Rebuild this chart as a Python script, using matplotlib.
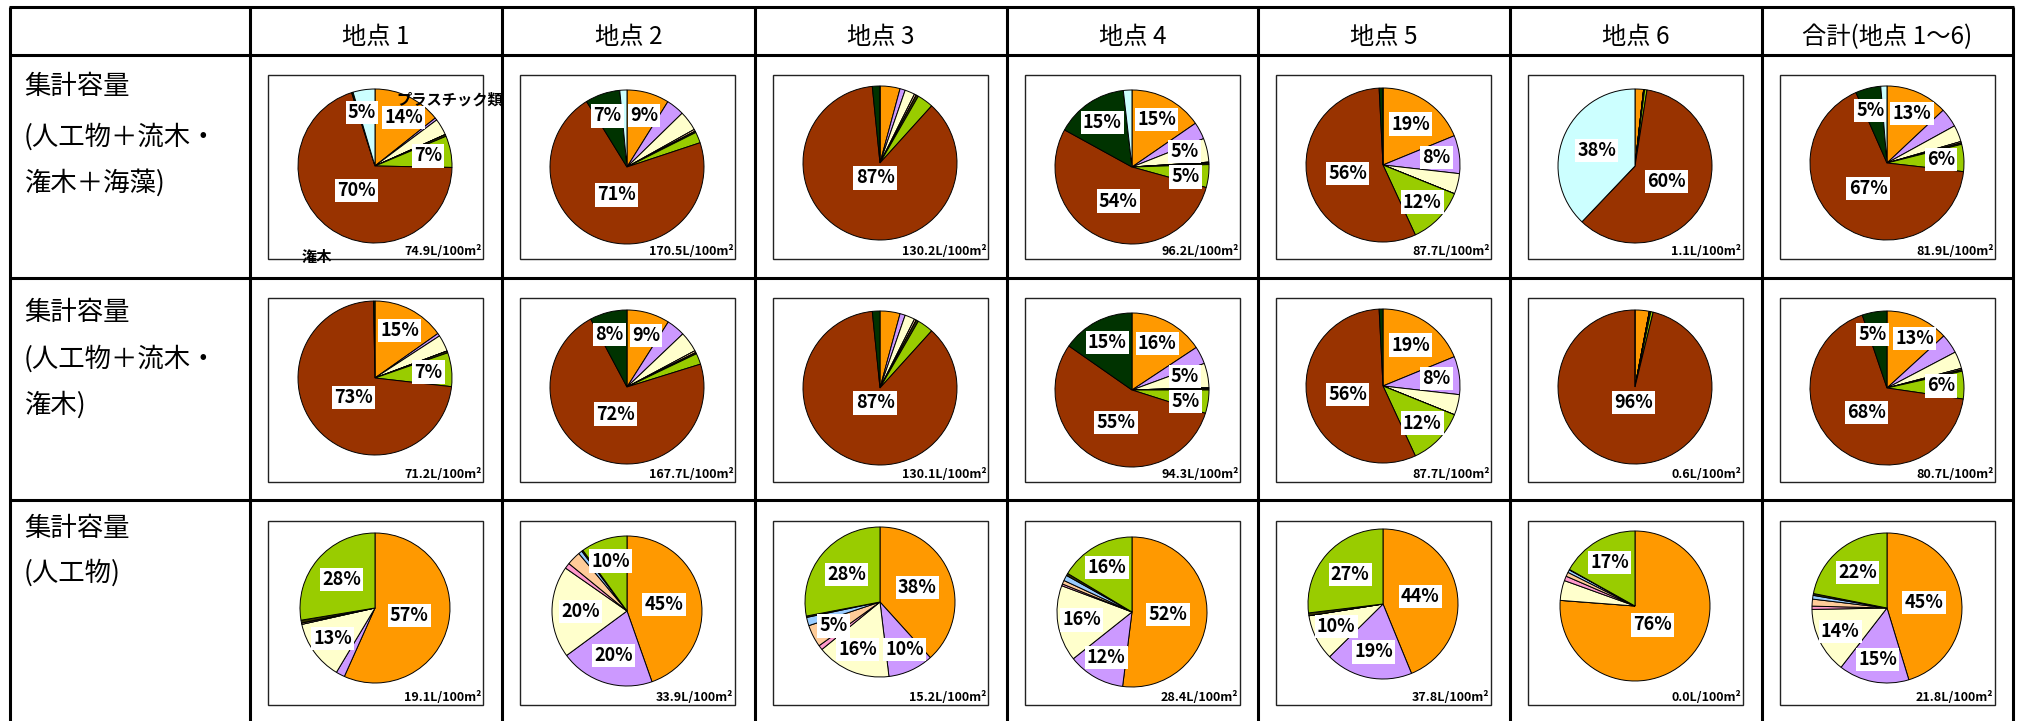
import numpy as np
import matplotlib.pyplot as plt
from matplotlib.patches import Rectangle

plt.rcParams['font.family'] = ['Noto Sans CJK JP', 'DejaVu Sans']

# 凡例は図中に無いので、区分は色の並び順（12時から時計回り）
categories = ['プラスチック類', '発泡スチロール類', '紙類', '布類', 'ガラス・陶磁器類',
              '金属類', 'ゴム類', 'その他人工物', '潅木', '流木', '海藻']
colors = ['#FF9900', '#CC99FF', '#FFFFCC', '#FF99CC', '#FFCC99',
          '#99CCFF', '#333300', '#99CC00', '#993300', '#003300', '#CCFFFF']

sites = ['地点 1', '地点 2', '地点 3', '地点 4', '地点 5', '地点 6', '合計(地点 1～6)']
row_titles = [['集計容量', '(人工物＋流木・', '潅木＋海藻)'],
              ['集計容量', '(人工物＋流木・', '潅木)'],
              ['集計容量', '(人工物)']]

# 構成比(%) 人工物＋流木・潅木＋海藻
share_all = [
    [14.3, 0.5, 3.5, 0, 0, 0, 0.4, 6.6, 69.8, 0.3, 4.6],
    [8.9, 3.8, 4.2, 0, 0.4, 0, 0.3, 2.3, 71.3, 7.3, 1.5],
    [4.2, 1.1, 2.1, 0, 0.4, 0, 0.5, 3.4, 86.7, 1.6, 0],
    [15.4, 3.6, 5.0, 0, 0, 0.2, 0.3, 4.8, 53.7, 15.2, 1.8],
    [18.8, 8.0, 4.3, 0, 0, 0, 0, 12.0, 56.1, 0.8, 0],
    [1.8, 0, 0, 0, 0, 0, 0.2, 0.5, 59.6, 0, 37.9],
    [13.0, 4.0, 3.5, 0, 0.3, 0, 0.3, 5.7, 66.6, 5.3, 1.3],
]
# 人工物＋流木・潅木
share_wood = [
    [15.2, 0.6, 3.5, 0, 0, 0, 0.4, 7.1, 72.9, 0.3],
    [9.0, 3.9, 4.3, 0, 0.4, 0, 0.3, 2.3, 72.0, 7.8],
    [4.2, 1.1, 2.1, 0, 0.4, 0, 0.5, 3.4, 86.7, 1.6],
    [15.7, 3.7, 5.1, 0, 0, 0.2, 0.3, 4.9, 54.8, 15.3],
    [18.8, 8.0, 4.3, 0, 0, 0, 0, 12.0, 56.1, 0.8],
    [3.0, 0, 0, 0, 0, 0, 0.3, 0.5, 96.2, 0],
    [13.2, 4.1, 3.6, 0, 0.3, 0, 0.3, 5.8, 67.5, 5.2],
]
# 人工物のみ
share_artificial = [
    [56.7, 1.9, 12.9, 0, 0.3, 0, 0.6, 27.6],
    [44.6, 20.3, 19.8, 1.2, 3.0, 0.8, 0.3, 10.0],
    [38.3, 9.8, 16.0, 1.0, 4.8, 1.8, 0.3, 28.0],
    [52.0, 12.3, 16.4, 0.4, 0.8, 1.2, 0.5, 16.4],
    [43.8, 18.8, 9.9, 0, 0, 0, 0.6, 26.9],
    [76.2, 0, 4.3, 1.0, 0.9, 0.6, 0.1, 16.9],
    [45.3, 15.2, 14.2, 0.7, 1.5, 0.8, 0.4, 21.9],
]
# 集計容量 (L/100m2)
total_all = [74.9, 170.5, 130.2, 96.2, 87.7, 1.1, 81.9]
total_wood = [71.2, 167.7, 130.1, 94.3, 87.7, 0.6, 80.7]
total_artificial = [19.1, 33.9, 15.2, 28.4, 37.8, 0.0, 21.8]

rows = [(share_all, total_all), (share_wood, total_wood), (share_artificial, total_artificial)]

# --- レイアウト（ピクセル） ---
W, H = 2026, 721
col_x = [10, 250, 502, 755, 1007, 1258, 1510, 1762, 2013]
row_y = [7, 55, 278, 500]
box_top = [75, 298, 521]
box_w, box_h = 215, 184
pie_r = [77, 77, 75]
pie_cy = [[166, 167, 163, 167, 165, 166, 163],
          [378, 387, 388, 390, 386, 387, 388],
          [608, 611, 602, 612, 604, 606, 608]]
title_y = [[87, 137, 183], [313, 359, 405], [528, 573]]

fig = plt.figure(figsize=(W / 100, H / 100), dpi=100)
bg = fig.add_axes([0, 0, 1, 1])
bg.set_xlim(0, W)
bg.set_ylim(H, 0)
bg.axis('off')

for x in col_x:
    bg.plot([x, x], [row_y[0], H + 5], color='black', lw=2.2, solid_capstyle='butt')
for y in row_y:
    bg.plot([col_x[0] - 1, col_x[-1] + 1], [y, y], color='black', lw=2.2, solid_capstyle='butt')

for i, s in enumerate(sites):
    bg.text((col_x[i + 1] + col_x[i + 2]) / 2, 37, s, ha='center', va='center', fontsize=17.5)

for r, lines in enumerate(row_titles):
    for j, t in enumerate(lines):
        bg.text(24, title_y[r][j], t, ha='left', va='center', fontsize=19)


def label_dist(p):
    return np.interp(p, [0, 15, 20, 45, 60, 75, 87, 100], [0.7, 0.7, 0.62, 0.5, 0.46, 0.36, 0.2, 0.2])


pie_labels = []
for r, (shares, totals) in enumerate(rows):
    for c in range(7):
        vals = np.array(shares[c], dtype=float)
        bx = col_x[c + 1] + 17.5
        by = box_top[r]
        bg.add_patch(Rectangle((bx, by), box_w, box_h, fill=False, edgecolor='#222222', lw=1.0))
        bg.text(bx + box_w - 1, by + box_h - 4, f'{totals[c]:.1f}L/100m²', ha='right', va='baseline',
                fontsize=9, fontweight='bold')

        cx = bx + box_w / 2
        cy = pie_cy[r][c]
        R = pie_r[r]
        ax = fig.add_axes([(cx - R) / W, 1 - (cy + R) / H, 2 * R / W, 2 * R / H])
        ax.pie(vals, colors=colors[:len(vals)], startangle=90, counterclock=False, radius=1,
               wedgeprops=dict(edgecolor='black', linewidth=0.7))
        ax.set_xlim(-1, 1)
        ax.set_ylim(-1, 1)
        ax.axis('off')

        pct = vals / vals.sum() * 100
        start = np.cumsum(pct) - pct
        texts = []
        for p, s0 in zip(pct, start):
            if p < 4.5:
                continue
            ang = np.deg2rad(90 - (s0 + p / 2) * 3.6)
            d = label_dist(p)
            t = ax.text(d * np.cos(ang), d * np.sin(ang), f'{round(p)}%', ha='center', va='center',
                        fontsize=13, fontweight='bold', clip_on=False,
                        bbox=dict(facecolor='white', edgecolor='none', pad=1.5))
            texts.append(t)
        pie_labels.append((R, texts))

# 重なったラベルを少しずらす
fig.canvas.draw()
renderer = fig.canvas.get_renderer()
for R, texts in pie_labels:
    n = len(texts)
    if n < 2:
        continue
    for i in range(n):
        t1, t2 = texts[i], texts[(i + 1) % n]
        if t1 is t2:
            continue
        b1 = t1.get_bbox_patch().get_window_extent(renderer)
        b2 = t2.get_bbox_patch().get_window_extent(renderer)
        ox = min(b1.x1, b2.x1) - max(b1.x0, b2.x0)
        oy = min(b1.y1, b2.y1) - max(b1.y0, b2.y0)
        if ox > 0 and oy > 0:
            x1, y1 = t1.get_position()
            x2, y2 = t2.get_position()
            if ox <= oy:
                s = (ox / 2 + 2) / R
                sign = 1 if x2 >= x1 else -1
                t1.set_position((x1 - sign * s, y1))
                t2.set_position((x2 + sign * s, y2))
            else:
                s = (oy / 2 + 1) / R
                sign = 1 if y2 >= y1 else -1
                t1.set_position((x1, y1 - sign * s))
                t2.set_position((x2, y2 + sign * s))

# Excelのカテゴリ名の残り（円グラフより前面に）
fig.text(396, 100, 'プラスチック類', transform=bg.transData, ha='left', va='center',
         fontsize=11, fontweight='bold')
fig.text(302, 257, '潅木', transform=bg.transData, ha='left', va='center',
         fontsize=11, fontweight='bold')

fig.savefig('out.png', dpi=100)
